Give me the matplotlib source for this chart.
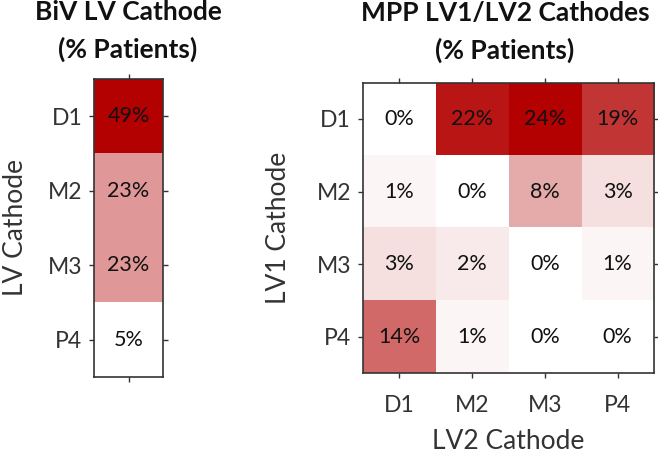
import numpy as np
import matplotlib
matplotlib.use("Agg")
import matplotlib.pyplot as plt
from matplotlib.colors import LinearSegmentedColormap

# data
cathodes = ['D1', 'M2', 'M3', 'P4']
biv_lv = [49, 23, 23, 5]
mpp = [[0, 22, 24, 19],
       [1, 0, 8, 3],
       [3, 2, 0, 1],
       [14, 1, 0, 0]]

plt.rcParams['font.family'] = ['Lato', 'DejaVu Sans']
grey = '#333333'
cmap = LinearSegmentedColormap.from_list('wr', ['#FFFFFF', '#B30000'])

fig = plt.figure(figsize=(6.58, 4.53), dpi=100)


def style_axes(ax):
    for s in ax.spines.values():
        s.set_color(grey)
        s.set_linewidth(1.2)
    ax.tick_params(direction='out', length=3.5, width=1, color=grey,
                   labelcolor=grey, labelsize=16.5, top=True, right=True)


# left: BiV LV cathode
ax1 = fig.add_axes([94 / 658, 1 - 377 / 453, 69 / 658, 298 / 453])
a = np.array(biv_lv).reshape(-1, 1)
ax1.imshow(a, cmap=cmap, vmin=min(biv_lv), vmax=max(biv_lv), aspect='auto')
for i, v in enumerate(biv_lv):
    ax1.text(0, i, '%d%%' % v, ha='center', va='center', fontsize=15.5, color='#111111')
ax1.set_xticks([0])
ax1.set_xticklabels([])
ax1.set_yticks(range(len(cathodes)))
ax1.set_yticklabels(cathodes)
style_axes(ax1)
ax1.tick_params(axis='y', pad=5)
ax1.set_ylabel('LV Cathode', fontsize=19, color=grey, labelpad=14)
fig.text(128 / 658, 1 - 0 / 453, 'BiV LV Cathode\n(% Patients)', ha='center', va='top',
         fontsize=19, fontweight='bold', linespacing=1.6, color='#111111')

# right: MPP LV1/LV2 cathodes
ax2 = fig.add_axes([362.7 / 658, 1 - 373 / 453, 291.3 / 658, 290.3 / 453])
m = np.array(mpp)
ax2.imshow(m, cmap=cmap, vmin=0, vmax=m.max(), aspect='auto')
for i in range(m.shape[0]):
    for j in range(m.shape[1]):
        ax2.text(j, i, '%d%%' % m[i, j], ha='center', va='center', fontsize=15.5, color='#111111')
ax2.set_xticks(range(len(cathodes)))
ax2.set_xticklabels(cathodes)
ax2.set_yticks(range(len(cathodes)))
ax2.set_yticklabels(cathodes)
style_axes(ax2)
ax2.tick_params(axis='x', pad=12)
ax2.tick_params(axis='y', pad=5)
ax2.set_xlabel('LV2 Cathode', fontsize=19, color=grey, labelpad=10)
ax2.set_ylabel('LV1 Cathode', fontsize=19, color=grey, labelpad=18)
fig.text(505 / 658, 1 - 1 / 453, 'MPP LV1/LV2 Cathodes\n(% Patients)', ha='center', va='top',
         fontsize=19, fontweight='bold', linespacing=1.6, color='#111111')

fig.savefig('out.png', dpi=100)
